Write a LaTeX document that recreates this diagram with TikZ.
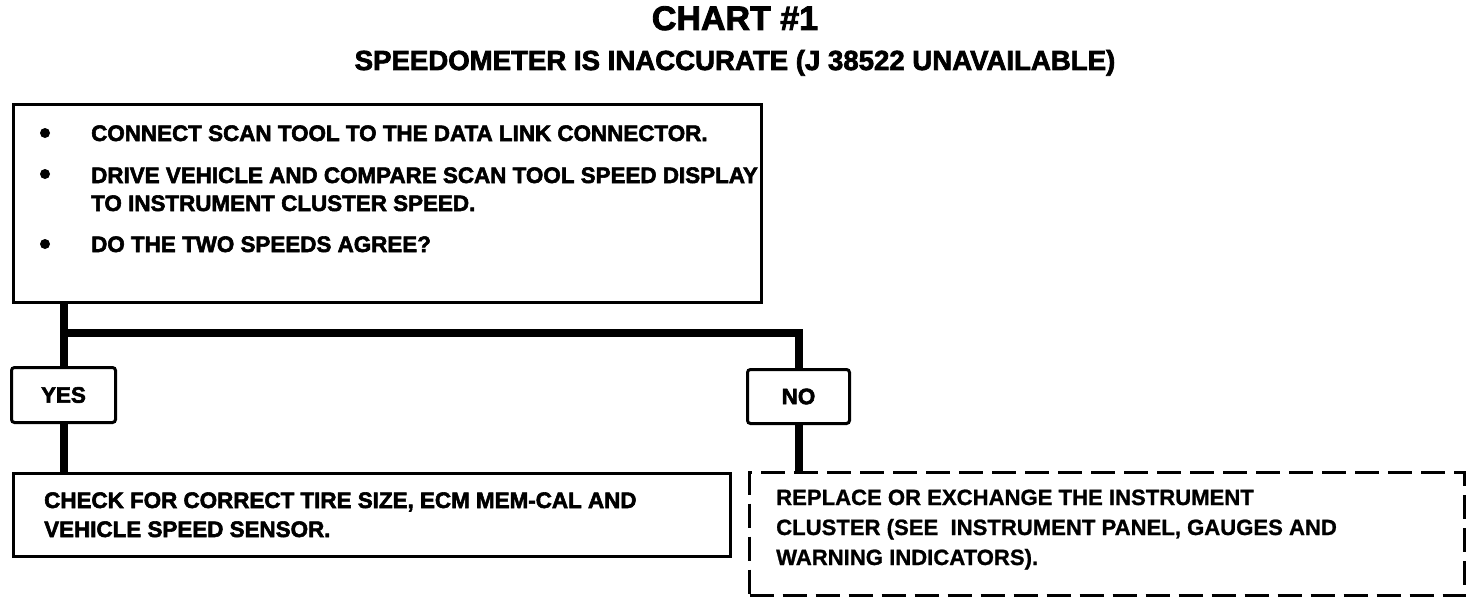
\documentclass[tikz,border=0pt]{standalone}
\usepackage{fontspec}
\setmainfont{Liberation Sans}
\newfontfamily\heavyfont{Liberation Sans Bold}[FakeBold=2.5]
\newfontfamily\boldfont{Liberation Sans Bold}[FakeBold=1]
\begin{document}
\begin{tikzpicture}[x=1pt,y=-1pt]
\tikzset{
  box/.style={draw, line width=3pt, inner sep=0pt, anchor=north west},
  conn/.style={line width=8pt},
  txt/.style={inner sep=0pt, anchor=base west, font=\heavyfont\fontsize{22.4}{29}\selectfont},
  rtxt/.style={inner sep=0pt, anchor=base west, font=\boldfont\fontsize{22.1}{29}\selectfont},
  bul/.style={circle, fill, inner sep=0pt, minimum size=10pt},
  lbl/.style={box, rounded corners=3pt, font=\heavyfont\fontsize{22.4}{29}\selectfont},
}
\useasboundingbox (0,0) rectangle (1472,602);
% title
\node[inner sep=0pt, anchor=base, font=\heavyfont\fontsize{34}{40}\selectfont] (title) at (735,30) {CHART \#1};
\node[inner sep=0pt, anchor=base, font=\heavyfont\fontsize{27.6}{32}\selectfont] (subtitle) at (735,70) {SPEEDOMETER IS INACCURATE (J 38522 UNAVAILABLE)};
% top box
\node[box, minimum width=748pt, minimum height=198pt] (top) at (12,103) {};
\node[bul] (b1) at (45,133) {};
\node[bul] (b2) at (45,174) {};
\node[bul] (b3) at (45,244) {};
\node[txt] (t1) at (91,141) {CONNECT SCAN TOOL TO THE DATA LINK CONNECTOR.};
\node[txt] (t2) at (91,183) {DRIVE VEHICLE AND COMPARE SCAN TOOL SPEED DISPLAY};
\node[txt] (t3) at (91,211) {TO INSTRUMENT CLUSTER SPEED.};
\node[txt] (t4) at (91,252) {DO THE TWO SPEEDS AGREE?};
% yes / no
\node[lbl, minimum width=104pt, minimum height=55pt] (yes) at (10,366) {YES};
\node[lbl, minimum width=102pt, minimum height=54pt] (no) at (746,368) {NO};
% result boxes
\node[box, minimum width=717pt, minimum height=83pt] (check) at (12,472) {};
\node[txt] (c1) at (44,508) {CHECK FOR CORRECT TIRE SIZE, ECM MEM-CAL AND};
\node[txt] (c2) at (44,537) {VEHICLE SPEED SENSOR.};
\node[box, dash pattern=on 24pt off 9pt, minimum width=715pt, minimum height=123pt] (replace) at (748,471) {};
\node[rtxt] (r1) at (776,505) {REPLACE OR EXCHANGE THE INSTRUMENT};
\node[rtxt] (r2) at (776,535) {CLUSTER (SEE\ \ INSTRUMENT PANEL, GAUGES AND};
\node[rtxt] (r3) at (776,565) {WARNING INDICATORS).};
% connectors
\draw[conn] (top.south -| yes.north) -- (yes.north);
\draw[conn] (yes.north |- 0,333) -| (no.north);
\draw[conn] (yes.south) -- (yes.south |- check.north);
\draw[conn] (no.south) -- (no.south |- replace.north);
\end{tikzpicture}
\end{document}
